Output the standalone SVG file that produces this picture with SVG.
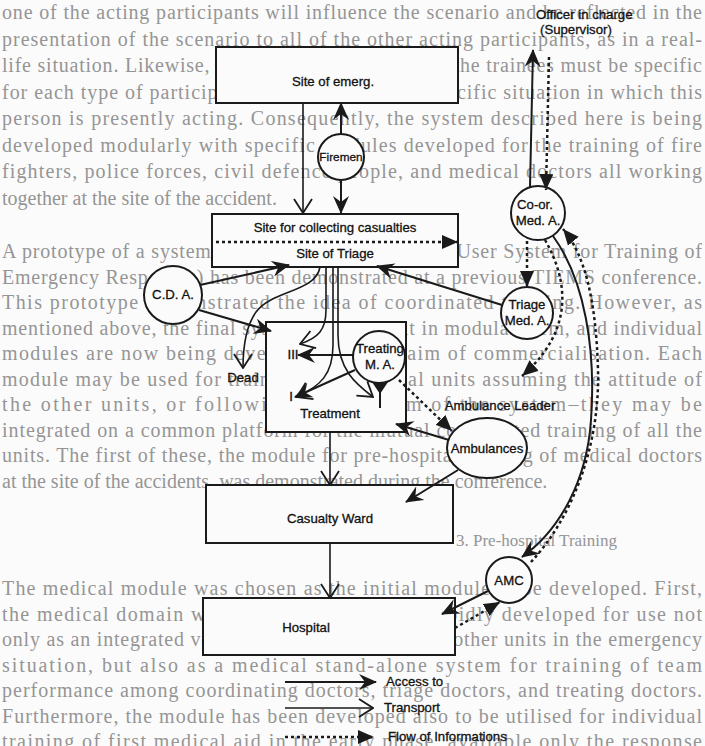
<svg xmlns="http://www.w3.org/2000/svg" width="705" height="746" viewBox="0 0 705 746">
<defs>
<style>
.bg{font-family:"Liberation Serif","Times New Roman",serif;font-size:20px;fill:#959595}
.lbl{font-family:"Liberation Sans",Arial,sans-serif;font-size:13.2px;fill:#111;stroke:#111;stroke-width:0.3;text-anchor:middle}
.lft{text-anchor:start}
.node{fill:#fbfbfb;stroke:#1a1a1a;stroke-width:2}
.acc{fill:none;stroke:#1a1a1a;stroke-width:2;marker-end:url(#mAcc)}
.tr{fill:none;stroke:#1a1a1a;stroke-width:1.6;marker-end:url(#mTr)}
.info{fill:none;stroke:#1a1a1a;stroke-width:2.5;stroke-dasharray:3 3;marker-end:url(#mInfo)}
</style>
<marker id="mAcc" viewBox="0 0 18 16" refX="17" refY="8" markerWidth="18" markerHeight="16" markerUnits="userSpaceOnUse" orient="auto"><path d="M0,0 L18,8 L0,16 L6,8 Z" fill="#1a1a1a"/></marker>
<marker id="mTr" viewBox="0 0 16 20" refX="15" refY="10" markerWidth="16" markerHeight="20" markerUnits="userSpaceOnUse" orient="auto"><path d="M1,1 L15,10 L1,19" fill="none" stroke="#1a1a1a" stroke-width="1.8"/></marker>
<marker id="mInfo" viewBox="0 0 16 14" refX="16" refY="7" markerWidth="16" markerHeight="14" markerUnits="userSpaceOnUse" orient="auto"><path d="M0,0 L16,7 L0,14 Z" fill="#1a1a1a"/></marker>
</defs>
<rect width="705" height="746" fill="#fbfbfb"/>
<g id="background-text" class="bg">
<text x="2" y="19" textLength="700" lengthAdjust="spacing">one of the acting participants will influence the scenario and be reflected in the</text>
<text x="2" y="45.5" textLength="700" lengthAdjust="spacing">presentation of the scenario to all of the other acting participants, as in a real-</text>
<text x="2" y="72" textLength="700" lengthAdjust="spacing">life situation. Likewise, the presentation to each of the trainees must be specific</text>
<text x="2" y="98.5" textLength="700" lengthAdjust="spacing">for each type of participant, and adapted to the specific situation in which this</text>
<text x="2" y="125" textLength="700" lengthAdjust="spacing">person is presently acting. Consequently, the system described here is being</text>
<text x="2" y="151.5" textLength="700" lengthAdjust="spacing">developed modularly with specific modules developed for the training of fire</text>
<text x="2" y="178" textLength="700" lengthAdjust="spacing">fighters, police forces, civil defence people, and medical doctors all working</text>
<text x="2" y="204.5">together at the site of the accident.</text>
<text x="2" y="258" textLength="700" lengthAdjust="spacing">A prototype of a system called MUSTER (Multiple User System for Training of</text>
<text x="2" y="283.5" textLength="700" lengthAdjust="spacing">Emergency Responses) has been demonstrated at a previous TIEMS conference.</text>
<text x="2" y="309" textLength="700" lengthAdjust="spacing">This prototype demonstrated the idea of coordinated training. However, as</text>
<text x="2" y="334.5" textLength="700" lengthAdjust="spacing">mentioned above, the final system will be built in modular form, and individual</text>
<text x="2" y="360" textLength="700" lengthAdjust="spacing">modules are now being developed with the aim of commercialisation. Each</text>
<text x="2" y="385.5" textLength="700" lengthAdjust="spacing">module may be used for training of individual units assuming the attitude of</text>
<text x="2" y="411" textLength="700" lengthAdjust="spacing">the other units, or following the real aim of the system–they may be</text>
<text x="2" y="436.5" textLength="700" lengthAdjust="spacing">integrated on a common platform for the mutual coordinated training of all the</text>
<text x="2" y="462" textLength="700" lengthAdjust="spacing">units. The first of these, the module for pre-hospital training of medical doctors</text>
<text x="2" y="487.5">at the site of the accidents, was demonstrated during the conference.</text>
<text x="456" y="546" style="font-size:17px">3. Pre-hospital Training</text>
<text x="2" y="595" textLength="700" lengthAdjust="spacing">The medical module was chosen as the initial module to be developed. First,</text>
<text x="2" y="620.5" textLength="700" lengthAdjust="spacing">the medical domain wanted to have a module rapidly developed for use not</text>
<text x="2" y="646" textLength="700" lengthAdjust="spacing">only as an integrated version for coordination with other units in the emergency</text>
<text x="2" y="671.5" textLength="700" lengthAdjust="spacing">situation, but also as a medical stand-alone system for training of team</text>
<text x="2" y="697" textLength="700" lengthAdjust="spacing">performance among coordinating doctors, triage doctors, and treating doctors.</text>
<text x="2" y="722.5" textLength="700" lengthAdjust="spacing">Furthermore, the module has been developed also to be utilised for individual</text>
<text x="2" y="748" textLength="700" lengthAdjust="spacing">training of first medical aid in the early phase, available only the response</text>
</g>
<g id="officer"><text class="lbl lft" x="536" y="19">Officer in charge</text><text class="lbl lft" x="540" y="34">(Supervisor)</text></g>
<g id="site-emerg"><rect class="node" x="216" y="47" width="242" height="56"/><text class="lbl" x="333" y="86">Site of emerg.</text></g>
<g id="firemen"><circle class="node" cx="341" cy="157" r="23"/><text class="lbl" x="341" y="161" style="font-size:11.8px">Firemen</text></g>
<g id="collecting"><rect class="node" x="212" y="214" width="246" height="53"/><text class="lbl" x="335" y="232">Site for collecting casualties</text><text class="lbl" x="335" y="258">Site of Triage</text></g>
<g id="cda"><circle class="node" cx="173" cy="295" r="29"/><text class="lbl" x="173" y="299">C.D. A.</text></g>
<g id="treatment"><rect class="node" x="266" y="322" width="140" height="110"/><text class="lbl" x="330" y="418">Treatment</text></g>
<g id="treating-ma"><circle class="node" cx="379" cy="357" r="26"/><text class="lbl" x="380" y="353">Treating</text><text class="lbl" x="380" y="369">M. A.</text></g>
<g id="dead"><text class="lbl" x="243" y="382">Dead</text></g>
<g id="co-or"><circle class="node" cx="538" cy="213" r="27"/><text class="lbl" x="535" y="209">Co-or.</text><text class="lbl" x="538" y="225">Med. A.</text></g>
<g id="triage"><circle class="node" cx="527" cy="313" r="26"/><text class="lbl" x="527" y="309">Triage</text><text class="lbl" x="527" y="325">Med. A.</text></g>
<g id="ambulances"><text class="lbl" x="500" y="410">Ambulance Leader</text><ellipse class="node" cx="487" cy="448" rx="40" ry="30"/><text class="lbl" x="487" y="453">Ambulances</text></g>
<g id="casualty-ward"><rect class="node" x="206" y="485" width="247" height="58"/><text class="lbl" x="330" y="523">Casualty Ward</text></g>
<g id="hospital"><rect class="node" x="203" y="598" width="252" height="57"/><text class="lbl" x="306" y="632">Hospital</text></g>
<g id="amc"><circle class="node" cx="509" cy="580" r="23"/><text class="lbl" x="509" y="585">AMC</text></g>
<g id="connectors">
<line class="tr" x1="303" y1="103" x2="303" y2="213"/>
<line class="tr" x1="330" y1="432" x2="330" y2="485"/>
<line class="tr" x1="330" y1="543" x2="330" y2="598"/>
<path class="tr" d="M320,267 C316,292 272,290 256,312 C246,326 243,345 243,368"/>
<path class="tr" d="M326,267 L326,310 C326,330 318,338 300,344"/>
<path class="tr" d="M333,267 L333,345 C333,375 320,386 297,397"/>
<path class="tr" d="M338,267 L338,335 C338,370 356,384 373,397"/>
<line class="acc" x1="341" y1="134" x2="341" y2="103"/>
<line class="acc" x1="341" y1="180" x2="341" y2="213"/>
<line class="acc" x1="200" y1="285" x2="289" y2="265"/>
<line class="acc" x1="199" y1="310" x2="271" y2="331"/>
<line class="acc" x1="502" y1="305" x2="377" y2="266"/>
<line class="acc" x1="449" y1="440" x2="396" y2="424"/>
<line class="acc" x1="458" y1="470" x2="406" y2="502"/>
<line class="acc" x1="488" y1="591" x2="442" y2="614"/>
<line class="acc" x1="530" y1="187" x2="533" y2="50"/>
<path class="acc" d="M553,236 C585,280 596,350 591,420 C587,480 560,530 522,557"/>
<line class="acc" x1="355" y1="370" x2="295" y2="397"/>
<line class="acc" x1="353" y1="355" x2="298" y2="355"/>
<line x1="380" y1="383" x2="380" y2="408" stroke="#1a1a1a" stroke-width="2"/>
<path d="M372,382 L388,382 L380,394 Z" fill="#1a1a1a"/>
<text class="lbl" x="293" y="359">III</text>
<text class="lbl" x="291" y="401">I</text>
<line class="info" x1="216" y1="242" x2="458" y2="242"/>
<line class="info" x1="549" y1="57" x2="546" y2="190"/>
<line class="info" x1="527" y1="241" x2="527" y2="287"/>
<path class="info" d="M545,240 C568,280 575,330 522,376"/>
<path class="info" d="M531,562 C570,520 600,450 598,370 C596,300 585,255 563,229"/>
<line class="info" x1="399" y1="380" x2="452" y2="431"/>
<line class="info" x1="455" y1="628" x2="500" y2="602"/>
</g>
<g id="legend">
<line class="acc" x1="285" y1="682" x2="376" y2="682"/>
<text class="lbl lft" x="386" y="686">Access to</text>
<line class="tr" x1="285" y1="708" x2="373" y2="708"/>
<text class="lbl lft" x="384" y="712">Transport</text>
<line class="info" x1="285" y1="737" x2="374" y2="737"/>
<text class="lbl lft" x="388" y="741">Flow of Informations</text>
</g>
</svg>
